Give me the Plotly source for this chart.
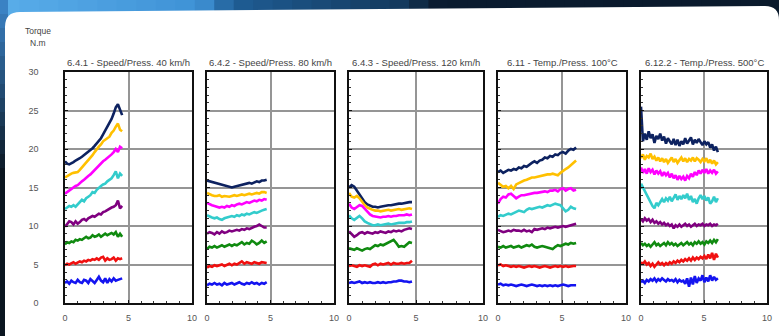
import numpy as np
import plotly.graph_objects as go
from plotly.subplots import make_subplots

W, H = 779, 336

titles = ["6.4.1 - Speed/Press. 40 km/h", "6.4.2 - Speed/Press. 80 km/h",
          "6.4.3 - Speed/Press. 120 km/h", "6.11 - Temp./Press. 100°C",
          "6.12.2 - Temp./Press. 500°C"]
y_ticks = [0, 5, 10, 15, 20, 25, 30]
x_ticks = [0, 5, 10]
x_end = [4.5, 4.7, 4.7, 6.1, 6.1]

series_names = ["navy", "orange", "magenta", "cyan", "purple", "green", "red", "blue"]
colors = ["#0d2260", "#ffc000", "#ff00ff", "#33cccc", "#800080", "#108a10", "#f01010", "#1414f0"]

# Panel 1 - 40 km/h
p1_navy = [18.4, 18.1, 18.0, 18.1, 18.3, 18.5, 18.6, 18.8, 19.0, 19.2, 19.4, 19.6, 19.8, 20.1, 20.4, 20.7, 21.0, 21.4, 21.9, 22.4, 22.8, 23.3, 23.9, 24.6, 25.4, 25.8, 25.2, 24.4]
p1_orange = [16.3, 16.5, 16.6, 16.8, 16.9, 17.0, 17.0, 17.3, 17.6, 17.9, 18.2, 18.5, 18.8, 19.2, 19.6, 20.0, 20.3, 20.6, 21.0, 21.2, 21.4, 21.6, 22.1, 22.4, 22.9, 23.3, 22.5, 22.3]
p1_magenta = [14.2, 14.4, 14.7, 14.9, 15.1, 15.2, 15.3, 15.6, 15.8, 16.0, 16.3, 16.5, 16.7, 17.0, 17.3, 17.6, 17.9, 18.2, 18.4, 18.6, 18.8, 19.0, 19.3, 19.6, 20.0, 19.6, 20.3, 20.1]
p1_cyan = [12.2, 12.4, 12.6, 12.5, 12.7, 12.5, 12.8, 13.1, 13.4, 13.2, 13.6, 13.8, 14.0, 14.4, 14.3, 14.7, 15.0, 15.2, 15.4, 15.5, 15.8, 16.0, 16.2, 16.6, 17.1, 16.2, 16.8, 16.5]
p1_purple = [9.9, 10.3, 10.6, 10.5, 10.2, 10.6, 10.3, 10.5, 10.8, 10.9, 10.7, 11.0, 11.1, 11.3, 11.2, 11.4, 11.6, 11.5, 11.8, 11.9, 12.1, 12.2, 12.4, 12.5, 12.7, 13.3, 12.3, 12.6]
p1_green = [7.6, 7.9, 7.8, 8.0, 7.9, 8.2, 8.1, 8.3, 8.2, 8.4, 8.6, 8.4, 8.5, 8.8, 8.6, 8.7, 8.9, 8.6, 8.8, 9.0, 8.8, 9.0, 9.1, 8.9, 9.2, 8.6, 9.0, 8.6]
p1_red = [4.9, 5.1, 5.0, 5.2, 5.3, 5.1, 5.2, 5.4, 5.3, 5.5, 5.4, 5.6, 5.5, 5.7, 5.6, 5.8, 5.6, 5.9, 6.0, 5.5, 5.8, 5.6, 5.7, 5.9, 5.5, 5.8, 5.7, 5.8]
p1_blue = [2.6, 2.8, 2.5, 2.9, 2.7, 2.6, 3.0, 2.7, 2.6, 3.0, 2.9, 2.6, 3.1, 2.8, 2.6, 3.0, 3.4, 2.9, 2.7, 3.2, 2.6, 3.1, 2.8, 3.2, 2.9, 3.0, 3.1, 3.2]

# Panel 2 - 80 km/h
p2_navy = [15.9, 15.8, 15.8, 15.6, 15.5, 15.4, 15.3, 15.2, 15.1, 15.1, 15.0, 15.1, 15.2, 15.3, 15.4, 15.5, 15.5, 15.6, 15.5, 15.7, 15.8, 15.7, 15.9, 15.9, 16.0]
p2_orange = [14.3, 14.1, 14.0, 13.9, 13.9, 14.0, 13.8, 13.9, 13.8, 13.8, 13.9, 14.0, 13.9, 14.0, 14.1, 14.0, 14.1, 14.2, 14.1, 14.2, 14.3, 14.2, 14.4, 14.4, 14.3]
p2_magenta = [13.0, 12.8, 12.7, 12.6, 12.5, 12.4, 12.5, 12.4, 12.6, 12.5, 12.7, 12.6, 12.8, 12.9, 12.8, 13.0, 13.1, 13.0, 13.2, 13.3, 13.2, 13.4, 13.3, 13.5, 13.4]
p2_cyan = [11.4, 11.2, 11.1, 11.0, 11.1, 10.9, 10.8, 11.0, 11.1, 11.2, 11.3, 11.2, 11.4, 11.3, 11.5, 11.4, 11.6, 11.5, 11.7, 11.8, 11.7, 11.9, 12.0, 12.1, 12.2]
p2_purple = [9.0, 9.2, 9.1, 8.9, 9.2, 9.0, 9.3, 9.1, 9.2, 9.4, 9.3, 9.4, 9.5, 9.4, 9.6, 9.5, 9.7, 9.6, 9.8, 9.9, 10.0, 10.2, 10.0, 9.8, 9.8]
p2_green = [7.0, 7.3, 7.2, 7.4, 7.2, 7.3, 7.5, 7.3, 7.4, 7.6, 7.4, 7.6, 7.5, 7.7, 7.9, 7.6, 7.8, 7.7, 8.1, 7.9, 7.6, 7.8, 8.1, 7.8, 8.0]
p2_red = [4.6, 4.8, 4.7, 4.9, 4.8, 4.9, 5.0, 4.8, 5.0, 5.1, 4.9, 5.1, 5.0, 5.2, 5.4, 5.1, 5.3, 5.2, 5.1, 5.3, 5.2, 5.1, 5.3, 5.2, 5.2]
p2_blue = [2.3, 2.5, 2.4, 2.6, 2.4, 2.5, 2.3, 2.6, 2.4, 2.5, 2.6, 2.4, 2.5, 2.7, 2.5, 2.4, 2.6, 2.5, 2.7, 2.5, 2.6, 2.4, 2.6, 2.5, 2.7]

# Panel 3 - 120 km/h
p3_navy = [15.0, 15.3, 15.1, 14.6, 14.0, 13.5, 13.1, 12.8, 12.6, 12.5, 12.5, 12.4, 12.5, 12.6, 12.6, 12.7, 12.7, 12.8, 12.8, 12.9, 12.9, 13.0, 13.0, 13.1, 13.1]
p3_orange = [14.3, 13.8, 13.7, 13.9, 13.6, 13.1, 12.7, 12.4, 12.2, 12.1, 12.0, 12.0, 11.9, 12.0, 12.0, 12.1, 12.0, 12.1, 12.1, 12.2, 12.1, 12.2, 12.2, 12.3, 12.2]
p3_magenta = [12.9, 12.4, 12.2, 12.5, 12.7, 12.6, 12.2, 11.8, 11.5, 11.3, 11.2, 11.2, 11.1, 11.2, 11.2, 11.3, 11.2, 11.3, 11.3, 11.4, 11.4, 11.4, 11.5, 11.4, 11.5]
p3_cyan = [11.4, 11.0, 10.8, 11.1, 11.3, 11.0, 10.6, 10.4, 10.2, 10.1, 10.1, 10.2, 10.1, 10.2, 10.2, 10.3, 10.2, 10.3, 10.3, 10.4, 10.4, 10.4, 10.5, 10.5, 10.6]
p3_purple = [9.3, 8.9, 8.6, 8.8, 9.1, 9.2, 9.0, 9.2, 9.1, 9.0, 9.2, 9.1, 9.3, 9.2, 9.1, 9.3, 9.2, 9.4, 9.3, 9.4, 9.3, 9.5, 9.6, 9.7, 9.6]
p3_green = [7.1, 7.0, 6.9, 7.1, 6.9, 6.8, 7.0, 7.1, 7.0, 7.3, 7.5, 7.4, 7.6, 7.5, 7.7, 7.8, 8.0, 8.2, 7.8, 7.3, 7.4, 7.3, 7.6, 7.9, 7.8]
p3_red = [4.8, 4.9, 4.8, 4.7, 4.9, 4.8, 4.9, 4.8, 4.7, 5.0, 5.1, 4.9, 5.1, 5.0, 5.1, 5.2, 5.0, 5.2, 5.1, 5.1, 5.2, 5.1, 5.2, 5.2, 5.5]
p3_blue = [2.6, 2.7, 2.6, 2.7, 2.8, 2.6, 2.7, 2.6, 2.7, 2.6, 2.6, 2.7, 2.6, 2.7, 2.6, 2.7, 2.7, 2.8, 2.8, 2.9, 2.9, 2.8, 2.8, 2.7, 2.8]

# Panel 4 - 100 °C
p4_navy = [17.0, 17.2, 16.9, 17.1, 17.3, 17.2, 17.4, 17.3, 17.6, 17.5, 17.8, 17.7, 18.0, 18.2, 18.4, 18.2, 18.5, 18.6, 18.9, 18.8, 19.1, 19.0, 19.3, 19.2, 19.5, 19.6, 19.4, 19.8, 20.0, 19.9, 20.2]
p4_orange = [15.6, 15.3, 15.1, 15.2, 14.9, 15.2, 14.8, 15.4, 15.6, 15.7, 15.9, 16.0, 16.2, 16.3, 16.3, 16.4, 16.4, 16.5, 16.6, 16.7, 16.7, 16.8, 16.7, 16.6, 16.9, 17.2, 17.4, 17.6, 17.9, 18.2, 18.5]
p4_magenta = [12.9, 13.5, 13.8, 13.7, 14.1, 14.2, 13.9, 13.6, 13.8, 14.0, 14.0, 14.1, 14.2, 14.2, 14.3, 14.3, 14.4, 14.4, 14.5, 14.4, 14.6, 14.6, 14.7, 14.5, 14.8, 14.9, 14.6, 14.8, 14.9, 14.6, 14.7]
p4_cyan = [11.2, 11.4, 11.3, 11.5, 11.6, 11.5, 11.7, 11.8, 12.0, 11.9, 11.8, 12.1, 12.3, 12.2, 12.3, 12.4, 12.5, 12.4, 12.6, 12.7, 12.6, 12.8, 12.9, 12.8, 12.7, 12.3, 11.9, 12.1, 12.5, 12.3, 12.2]
p4_purple = [9.5, 9.3, 9.2, 9.3, 9.4, 9.3, 9.5, 9.4, 9.4, 9.3, 9.5, 9.3, 9.4, 9.2, 9.6, 9.5, 9.6, 9.7, 9.6, 9.8, 9.7, 9.8, 9.9, 9.8, 9.9, 10.0, 9.9, 10.0, 10.1, 10.2, 10.3]
p4_green = [7.3, 7.2, 7.4, 7.2, 7.3, 7.4, 7.2, 7.3, 7.4, 7.2, 7.3, 7.5, 7.4, 7.6, 7.3, 7.2, 7.3, 7.4, 7.3, 7.2, 7.1, 7.0, 7.3, 7.5, 7.4, 7.6, 7.7, 7.6, 7.8, 7.7, 7.8]
p4_red = [4.9, 5.0, 4.8, 4.9, 4.8, 4.7, 4.8, 4.7, 4.8, 4.7, 4.6, 4.7, 4.8, 4.7, 4.8, 4.7, 4.6, 4.7, 4.8, 4.7, 4.6, 4.7, 4.8, 4.7, 4.8, 4.7, 4.8, 4.7, 4.8, 4.8, 4.8]
p4_blue = [2.4, 2.5, 2.3, 2.4, 2.3, 2.4, 2.3, 2.2, 2.3, 2.4, 2.3, 2.2, 2.3, 2.4, 2.3, 2.2, 2.3, 2.2, 2.3, 2.2, 2.3, 2.2, 2.3, 2.2, 2.3, 2.4, 2.3, 2.2, 2.3, 2.3, 2.3]

# Panel 5 - 500 °C
p5_navy = [25.5, 21.0, 22.0, 21.2, 22.3, 21.4, 21.9, 20.8, 21.7, 21.3, 22.0, 21.1, 21.6, 20.7, 21.4, 21.0, 20.6, 21.3, 20.5, 21.2, 20.4, 21.0, 20.6, 21.4, 20.7, 21.1, 21.5, 20.6, 21.2, 20.8, 21.3, 20.9, 20.5, 21.0, 20.6, 20.9, 20.2, 20.6, 19.8, 20.3, 19.6]
p5_orange = [18.8, 19.3, 18.6, 19.1, 18.9, 19.4, 18.7, 19.0, 18.5, 18.9, 18.4, 18.8, 18.3, 18.7, 18.2, 18.6, 18.9, 18.3, 18.7, 18.2, 18.6, 18.9, 18.4, 18.8, 18.3, 18.7, 18.5, 18.9, 18.4, 18.8, 18.6, 18.3, 18.7, 18.4, 18.8, 18.2, 18.6, 18.1, 18.5, 18.0, 18.3]
p5_magenta = [17.6, 16.9, 17.4, 16.8, 17.5, 17.0, 17.3, 16.7, 17.2, 16.8, 17.1, 16.5, 17.0, 16.6, 16.9, 16.3, 16.8, 16.2, 16.6, 16.0, 16.5, 16.1, 16.4, 15.9, 16.5, 16.2, 16.8, 16.4, 17.0, 16.6, 17.2, 16.8, 17.3, 16.9, 17.4, 16.8, 17.2, 16.9, 17.3, 16.8, 17.1]
p5_cyan = [15.5, 15.0, 14.5, 14.0, 13.6, 13.0, 12.6, 12.3, 13.0, 12.7, 13.2, 13.5, 13.1, 13.6, 13.3, 13.8, 13.2, 13.7, 14.1, 13.4, 13.9, 13.5, 14.0, 13.6, 14.2, 13.4, 13.9, 13.1, 13.5, 12.9, 13.6, 14.0, 13.5, 13.9, 13.3, 13.7, 12.9, 13.2, 13.8, 13.1, 13.6]
p5_purple = [10.9, 10.6, 11.0, 10.7, 10.9, 10.5, 10.8, 10.4, 10.6, 10.3, 10.5, 10.2, 10.4, 10.1, 10.3, 10.0, 10.2, 9.7, 10.1, 9.9, 10.2, 9.9, 10.1, 10.3, 10.0, 10.2, 9.9, 10.1, 10.3, 10.0, 10.2, 10.1, 10.3, 10.0, 10.2, 10.1, 10.3, 10.0, 10.2, 10.1, 10.3]
p5_green = [7.8, 7.5, 7.7, 7.4, 7.6, 7.3, 7.6, 7.9, 7.5, 7.7, 7.4, 7.6, 7.8, 7.5, 7.9, 7.6, 7.8, 7.5, 7.7, 7.4, 7.6, 7.8, 7.5, 7.7, 7.9, 7.6, 7.8, 7.5, 7.9, 7.7, 8.0, 7.7, 7.9, 7.6, 8.0, 7.8, 8.1, 7.8, 8.2, 7.9, 8.3]
p5_red = [5.3, 5.1, 5.4, 5.0, 5.2, 4.8, 5.1, 4.7, 5.0, 5.3, 5.0, 5.2, 4.9, 5.2, 5.0, 5.3, 5.1, 5.4, 5.2, 5.5, 5.3, 5.6, 5.4, 5.7, 5.5, 5.8, 5.5, 5.9, 5.6, 5.9, 5.7, 6.0, 5.8, 6.1, 5.7, 6.3, 5.8, 6.5, 5.6, 6.4, 5.9]
p5_blue = [2.7, 2.9, 2.6, 3.0, 2.8, 3.1, 2.9, 3.2, 2.8, 3.1, 2.9, 3.2, 3.0, 2.8, 3.1, 2.9, 3.0, 2.8, 3.1, 2.7, 3.0, 2.8, 2.9, 2.5, 3.2, 2.1, 3.3, 2.4, 3.5, 2.6, 3.2, 2.9, 3.6, 2.7, 3.3, 2.8, 3.6, 2.9, 3.4, 3.0, 3.2]

panels = [
    [p1_navy, p1_orange, p1_magenta, p1_cyan, p1_purple, p1_green, p1_red, p1_blue],
    [p2_navy, p2_orange, p2_magenta, p2_cyan, p2_purple, p2_green, p2_red, p2_blue],
    [p3_navy, p3_orange, p3_magenta, p3_cyan, p3_purple, p3_green, p3_red, p3_blue],
    [p4_navy, p4_orange, p4_magenta, p4_cyan, p4_purple, p4_green, p4_red, p4_blue],
    [p5_navy, p5_orange, p5_magenta, p5_cyan, p5_purple, p5_green, p5_red, p5_blue],
]

# layout geometry (pixels)
panel_px = [(65, 192), (207, 334), (349, 483), (498, 626), (641, 767)]
top_px, bot_px = 72, 303

def px_x(v):
    return v / W

def px_y(v):
    return 1 - v / H

fig = make_subplots(rows=1, cols=5)

for pi, series in enumerate(panels):
    for si, ys in enumerate(series):
        xs = np.linspace(0, x_end[pi], len(ys))
        fig.add_trace(go.Scatter(x=xs, y=ys, mode="lines",
                                 line=dict(color=colors[si], width=2.6),
                                 name=series_names[si], showlegend=False,
                                 hoverinfo="skip"),
                      row=1, col=pi + 1)

FONT = "Liberation Sans, Arial, sans-serif"
tick_font = dict(family=FONT, size=9, color="#555555")
for i, (l, r) in enumerate(panel_px):
    xa = "xaxis" if i == 0 else f"xaxis{i+1}"
    ya = "yaxis" if i == 0 else f"yaxis{i+1}"
    fig.layout[xa].update(domain=[px_x(l), px_x(r)], range=[0, 10], tickvals=x_ticks,
                          showgrid=True, gridcolor="#959595", gridwidth=1.6,
                          zeroline=False, showline=True, linecolor="#111111", linewidth=1.5,
                          mirror=True, ticks="inside", ticklen=3, tickcolor="#111111",
                          minor=dict(dtick=1, ticks="inside", ticklen=2, tickcolor="#333333", showgrid=False),
                          tickfont=tick_font, ticklabelstandoff=5, fixedrange=True,
                          automargin=False)
    fig.layout[ya].update(domain=[px_y(bot_px), px_y(top_px)], range=[0, 30], tickvals=y_ticks,
                          showgrid=True, gridcolor="#959595", gridwidth=1.6,
                          zeroline=False, showline=True, linecolor="#111111", linewidth=1.5,
                          mirror=True, ticks="inside", ticklen=3, tickcolor="#111111",
                          minor=dict(dtick=1, ticks="inside", ticklen=2, tickcolor="#333333", showgrid=False),
                          showticklabels=(i == 0), tickfont=tick_font,
                          ticklabelstandoff=23, fixedrange=True, automargin=False)
    fig.add_annotation(x=px_x((l + r) / 2), y=px_y(62), xref="paper", yref="paper",
                       text=titles[i], showarrow=False, xanchor="center", yanchor="middle",
                       font=dict(family=FONT, size=9.5, color="#444444"))

fig.add_annotation(x=px_x(38), y=px_y(31), xref="paper", yref="paper", text="Torque",
                   showarrow=False, xanchor="center", yanchor="middle",
                   font=dict(family=FONT, size=8.5, color="#444444"))
fig.add_annotation(x=px_x(38), y=px_y(43), xref="paper", yref="paper", text="N.m",
                   showarrow=False, xanchor="center", yanchor="middle",
                   font=dict(family=FONT, size=8.5, color="#444444"))

# dark frame background with blue gradient on top band
shapes = []
def lerp(c1, c2, t):
    a = [int(c1[k:k+2], 16) for k in (1, 3, 5)]
    b = [int(c2[k:k+2], 16) for k in (1, 3, 5)]
    return "#%02x%02x%02x" % tuple(int(a[j] + (b[j] - a[j]) * t) for j in range(3))

stops = [(0, "#5aaeea"), (200, "#3f92d6"), (235, "#1f5d94"), (400, "#143a5e"),
         (440, "#0b1c30"), (779, "#0a1a2c")]
def band_color(x):
    for (xa, ca), (xb, cb) in zip(stops[:-1], stops[1:]):
        if xa <= x <= xb:
            return lerp(ca, cb, (x - xa) / (xb - xa))
    return stops[-1][1]

nseg = 40
for k in range(nseg):
    x0 = k * W / nseg
    x1 = (k + 1) * W / nseg + 1
    shapes.append(dict(type="rect", xref="paper", yref="paper", layer="below",
                       x0=px_x(x0), x1=px_x(x1), y0=px_y(22), y1=px_y(0),
                       fillcolor=band_color((x0 + x1) / 2), line=dict(width=0)))
nv = 24
for k in range(nv):
    y0 = k * H / nv
    y1 = (k + 1) * H / nv + 1
    t = min(1.0, k / (nv * 0.5))
    shapes.append(dict(type="rect", xref="paper", yref="paper", layer="below",
                       x0=px_x(0), x1=px_x(8), y0=px_y(y1), y1=px_y(y0),
                       fillcolor=lerp("#3a82c4", "#0a1520", t), line=dict(width=0)))

path = (f"M {px_x(5)},{px_y(27)} Q {px_x(5)},{px_y(12)} {px_x(20)},{px_y(12)} "
        f"L {px_x(765)},{px_y(6)} Q {px_x(779)},{px_y(6)} {px_x(779)},{px_y(20)} "
        f"L {px_x(779)},{px_y(345)} L {px_x(5)},{px_y(345)} Z")
shapes.append(dict(type="path", xref="paper", yref="paper", layer="below", path=path,
                   fillcolor="#ffffff", line=dict(width=0)))

fig.update_layout(width=W, height=H,
                  margin=dict(l=0, r=0, t=0, b=0, pad=0, autoexpand=False),
                  paper_bgcolor="#0c1c2e", plot_bgcolor="#ffffff",
                  showlegend=False, shapes=shapes)

fig.write_html("out.html", config={"displayModeBar": False},
               post_script="document.body.style.margin='0px';document.body.style.overflow='hidden';")
